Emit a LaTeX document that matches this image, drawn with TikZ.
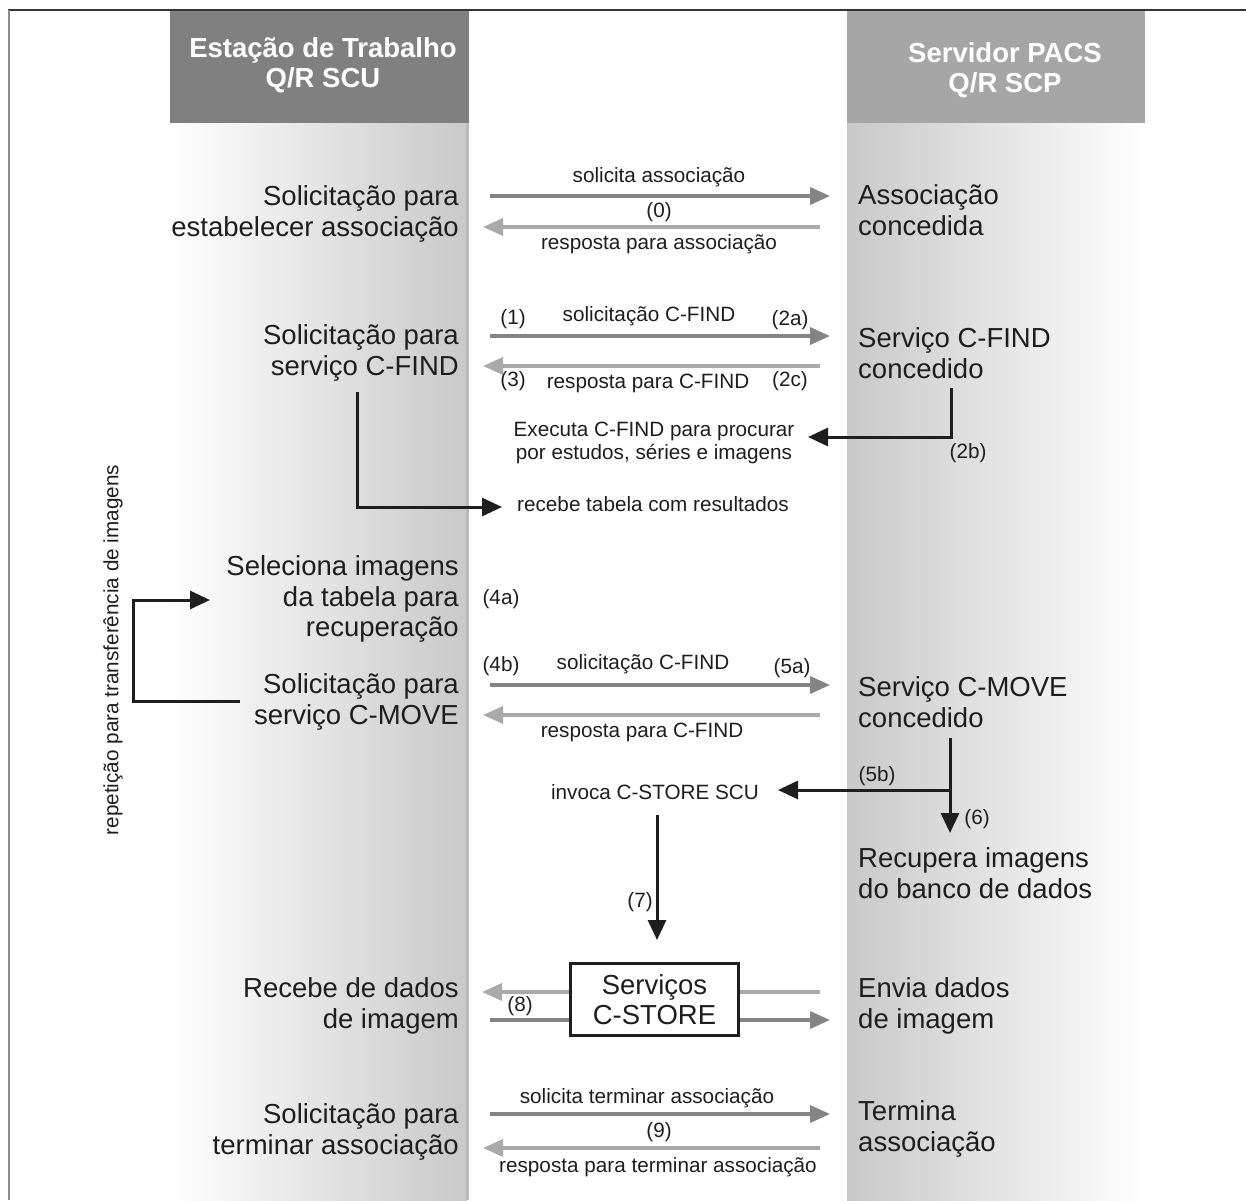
\documentclass[tikz,border=0pt]{standalone}
\usepackage{fontspec}
\setmainfont{Liberation Sans}
\usetikzlibrary{arrows.meta}
\definecolor{hdrL}{HTML}{808080}
\definecolor{hdrR}{HTML}{A6A6A6}
\definecolor{reqC}{HTML}{848484}
\definecolor{resC}{HTML}{A9A9A9}
\definecolor{laneC}{HTML}{C9C9C9}
\definecolor{txt}{HTML}{1E1E1E}
\begin{document}
\begin{tikzpicture}[x=1pt,y=-1pt,
  big/.style={font=\fontsize{27.5}{30.5}\selectfont, text=txt, inner sep=0pt},
  bigL/.style={big, align=right, anchor=east},
  bigR/.style={big, align=left, anchor=west},
  small/.style={font=\fontsize{20.7}{22.5}\selectfont, text=txt, inner sep=0pt},
  hdr/.style={font=\bfseries\fontsize{27.5}{30.5}\selectfont, text=white, align=center, inner sep=0pt},
  req/.style={draw=reqC, line width=3.5pt, -{Triangle[length=20pt,width=17pt]}},
  res/.style={draw=resC, line width=3.5pt, -{Triangle[length=20pt,width=17pt]}},
  reqline/.style={draw=reqC, line width=3.5pt},
  resline/.style={draw=resC, line width=3.5pt},
  blk/.style={draw=txt, line width=3pt},
  blkarrow/.style={blk, -{Triangle[length=20pt,width=18pt]}},
]
\useasboundingbox (0,0) rectangle (1246,1200);
\fill[white] (0,0) rectangle (1246,1200);

% lanes
\shade[left color=white, middle color=white!82!laneC, right color=laneC] (170,123) rectangle (467,1200);
\fill[laneC!92!black] (466,123) rectangle (469,1200);
\shade[left color=laneC, middle color=white!75!laneC, right color=white] (847,123) rectangle (1145,1200);

% headers
\fill[hdrL] (170,10) rectangle (469,123);
\fill[hdrR] (847,10) rectangle (1145,123);
\node[hdr] (hL) at (323,65) {Estação de Trabalho\\Q/R SCU};
\node[hdr] (hR) at (1005,70) {Servidor PACS\\Q/R SCP};

% frame
\draw[line width=2pt, black!80] (8,10) -- (1246,10);
\draw[line width=2pt, black!45] (9,10) -- (9,1200);

% ---------- row 0 : association
\node[bigL] (l0) at (459,214) {Solicitação para\\estabelecer associação};
\node[bigR] (r0) at (858,210) {Associação\\concedida};
\coordinate (a0s) at (490,196); \coordinate (a0e) at (830,196);
\coordinate (b0s) at (820,227); \coordinate (b0e) at (483,227);
\draw[req] (a0s) -- (a0e);
\draw[res] (b0s) -- (b0e);
\node[small] (t0a) at (659,177) {solicita associação};
\node[small] (t0b) at (659,212) {(0)};
\node[small] (t0c) at (659,244) {resposta para associação};

% ---------- row 1 : C-FIND
\node[bigL] (l1) at (459,353) {Solicitação para\\serviço C-FIND};
\node[bigR] (r1) at (858,353) {Serviço C-FIND\\concedido};
\coordinate (a1s) at (490,336); \coordinate (a1e) at (830,336);
\coordinate (b1s) at (820,366); \coordinate (b1e) at (483,366);
\draw[req] (a1s) -- (a1e);
\draw[res] (b1s) -- (b1e);
\node[small] (n1) at (513,319) {(1)};
\node[small] (t1a) at (649,316) {solicitação C-FIND};
\node[small] (n2a) at (790,320) {(2a)};
\node[small] (n3) at (513,381) {(3)};
\node[small] (t1c) at (648,383) {resposta para C-FIND};
\node[small] (n2c) at (790,381) {(2c)};

% (2b) execute
\node[small, align=center] (exec) at (654,443) {Executa C-FIND para procurar\\por estudos, séries e imagens};
\coordinate (c2b) at (951,388); \coordinate (c2bt) at (808,437);
\draw[blkarrow] (c2b) |- (c2bt);
\node[small] (n2b) at (968,453) {(2b)};

% receive table
\node[small] (recv) at (653,504) {recebe tabela com resultados};
\coordinate (cr) at (357,392); \coordinate (crt) at (502,507);
\draw[blkarrow] (cr) |- (crt);

% ---------- select images
\node[bigL] (l4) at (459,599) {Seleciona imagens\\da tabela para\\recuperação};
\node[small] (n4a) at (501,599) {(4a)};

% ---------- C-MOVE
\node[bigL] (l5) at (459,702) {Solicitação para\\serviço C-MOVE};
\node[bigR] (r5) at (858,702) {Serviço C-MOVE\\concedido};
\coordinate (a5s) at (490,685); \coordinate (a5e) at (830,685);
\coordinate (b5s) at (820,715); \coordinate (b5e) at (483,715);
\draw[req] (a5s) -- (a5e);
\draw[res] (b5s) -- (b5e);
\node[small] (n4b) at (501,666) {(4b)};
\node[small] (t5a) at (643,664) {solicitação C-FIND};
\node[small] (n5a) at (792,668) {(5a)};
\node[small] (t5c) at (642,732) {resposta para C-FIND};

% loop
\node[small, rotate=90] (rep) at (113,650) {repetição para transferência de imagens};
\coordinate (lpS) at (240,701); \coordinate (lpE) at (210,600);
\draw[blkarrow] (lpS) -- (133,701) |- (lpE);

% (5b) (6)
\node[small] (invoke) at (655,792) {invoca C-STORE SCU};
\coordinate (c5) at (950,738); \coordinate (c6t) at (950,833);
\coordinate (c5j) at (950,790); \coordinate (c5t) at (778,790);
\draw[blkarrow] (c5) -- (c6t);
\draw[blkarrow] (c5j) -- (c5t);
\node[small] (n5b) at (877,776) {(5b)};
\node[small] (n6) at (977,819) {(6)};
\node[bigR] (r6) at (858,873) {Recupera imagens\\do banco de dados};

% (7)
\coordinate (c7s) at (657,815); \coordinate (c7t) at (657,940);
\draw[blkarrow] (c7s) -- (c7t);
\node[small] (n7) at (640,902) {(7)};

% ---------- C-STORE
\node[big, draw=txt, line width=3pt, fill=white, minimum width=168pt, minimum height=72pt, align=center] (cs) at (654.5,999.5) {Serviços\\C-STORE};
\node[bigL] (l8) at (459,1006) {Recebe de dados\\de imagem};
\node[bigR] (r8) at (858,1006) {Envia dados\\de imagem};
\coordinate (s8a) at (569,992); \coordinate (s8at) at (482,992);
\coordinate (s8b) at (569,1020); \coordinate (s8bt) at (490,1020);
\coordinate (s8c) at (740,992); \coordinate (s8ct) at (820,992);
\coordinate (s8d) at (740,1020); \coordinate (s8dt) at (830,1020);
\draw[res] (s8a) -- (s8at);
\draw[reqline] (s8b) -- (s8bt);
\draw[resline] (s8c) -- (s8ct);
\draw[req] (s8d) -- (s8dt);
\node[small] (n8) at (520,1006) {(8)};

% ---------- terminate
\node[bigL] (l9) at (459,1132) {Solicitação para\\terminar associação};
\node[bigR] (r9) at (858,1129) {Termina\\associação};
\coordinate (a9s) at (490,1114); \coordinate (a9e) at (830,1114);
\coordinate (b9s) at (820,1148); \coordinate (b9e) at (483,1148);
\draw[req] (a9s) -- (a9e);
\draw[res] (b9s) -- (b9e);
\node[small] (t9a) at (647,1098) {solicita terminar associação};
\node[small] (n9) at (659,1132) {(9)};
\node[small] (t9c) at (658,1167) {resposta para terminar associação};
\end{tikzpicture}
\end{document}
